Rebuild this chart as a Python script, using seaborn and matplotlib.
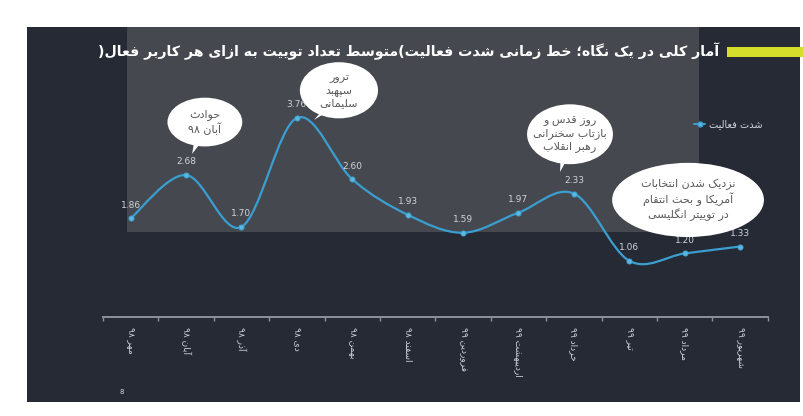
import re
import numpy as np
import pandas as pd
import matplotlib
matplotlib.use("Agg")
import matplotlib.pyplot as plt
import seaborn as sns
from matplotlib.patches import Rectangle, PathPatch, Ellipse, Polygon
from matplotlib.path import Path
from matplotlib.lines import Line2D

# --- data ---
months = ["مهر ۹۸", "آبان ۹۸", "آذر ۹۸", "دی ۹۸", "بهمن ۹۸", "اسفند ۹۸",
          "فروردین ۹۹", "اردیبهشت ۹۹", "خرداد ۹۹", "تیر ۹۹", "مرداد ۹۹", "شهریور ۹۹"]
activity = [1.86, 2.68, 1.70, 3.76, 2.60, 1.93, 1.59, 1.97, 2.33, 1.06, 1.20, 1.33]
series_name = "شدت فعالیت"
title = "آمار کلی در یک نگاه؛ خط زمانی شدت فعالیت(متوسط تعداد توییت به ازای هر کاربر فعال)"
callout_text = ["حوادث\nآبان ۹۸",
                "ترور\nسپهبد\nسلیمانی",
                "روز قدس و\nبازتاب سخنرانی\nرهبر انقلاب",
                "نزدیک شدن انتخابات\nآمریکا و بحث انتقام\nدر توییتر انگلیسی"]

# layout of the speech bubbles (centre, width, height, tail tip) in axis units
bubble_layout = [((1.34, 3.68), 1.35, 0.92, (1.11, 3.08)),
                 ((3.76, 4.28), 1.41, 1.06, (3.31, 3.72)),
                 ((7.93, 3.45), 1.55, 1.13, (7.75, 2.74)),
                 ((10.06, 2.21), 2.74, 1.40, (9.41, 1.58))]


# --- minimal persian shaping + right-to-left ordering (matplotlib has no bidi) ---
FORMS = {
    'ا': (0xFE8D, 0xFE8E), 'آ': (0xFE81, 0xFE82), 'د': (0xFEA9, 0xFEAA),
    'ذ': (0xFEAB, 0xFEAC), 'ر': (0xFEAD, 0xFEAE), 'ز': (0xFEAF, 0xFEB0),
    'ژ': (0xFB8A, 0xFB8B), 'و': (0xFEED, 0xFEEE),
    'ب': 0xFE8F, 'ت': 0xFE95, 'ث': 0xFE99, 'ج': 0xFE9D, 'ح': 0xFEA1, 'خ': 0xFEA5,
    'س': 0xFEB1, 'ش': 0xFEB5, 'ص': 0xFEB9, 'ض': 0xFEBD, 'ط': 0xFEC1, 'ظ': 0xFEC5,
    'ع': 0xFEC9, 'غ': 0xFECD, 'ف': 0xFED1, 'ق': 0xFED5, 'ل': 0xFEDD, 'م': 0xFEE1,
    'ن': 0xFEE5, 'ه': 0xFEE9, 'ی': 0xFBFC, 'پ': 0xFB56, 'چ': 0xFB7A, 'ک': 0xFB8E,
    'گ': 0xFB92, 'ئ': 0xFE89,
}


def joins_next(c):
    return c in FORMS and not isinstance(FORMS[c], tuple)


def shape(s):
    out = []
    i = 0
    while i < len(s):
        c = s[i]
        if c not in FORMS:
            out.append(c)
            i += 1
            continue
        after_link = i > 0 and joins_next(s[i - 1])
        if c == 'ل' and i + 1 < len(s) and s[i + 1] in 'اآ':
            base = 0xFEFB if s[i + 1] == 'ا' else 0xFEF5
            out.append(chr(base + (1 if after_link else 0)))
            i += 2
            continue
        before_link = joins_next(c) and i + 1 < len(s) and s[i + 1] in FORMS
        f = FORMS[c]
        if isinstance(f, tuple):
            out.append(chr(f[1] if after_link else f[0]))
        else:
            k = (3 if before_link else 1) if after_link else (2 if before_link else 0)
            out.append(chr(f + k))
        i += 1
    return ''.join(out)


def rtl(s):
    lines = []
    for line in s.split('\n'):
        parts = re.findall(r'[0-9۰-۹.]+|[^0-9۰-۹.]', shape(line))
        lines.append(''.join(reversed(parts)))
    return '\n'.join(lines)


# --- style ---
sns.set_theme(style="white")
plt.rcParams['font.family'] = ['DejaVu Sans']

bg = '#262a35'
line_c = '#3a9fd0'
txt_c = '#cfd3da'

df = pd.DataFrame({'month': np.arange(len(months)), 'value': activity})

fig = plt.figure(figsize=(8.04, 4.16), dpi=100, facecolor='white')
fig.patches.append(Rectangle((0.0336, 0.034), 0.962, 0.901, transform=fig.transFigure,
                             facecolor=bg, edgecolor='none', zorder=-3))
fig.patches.append(Rectangle((0.158, 0.442), 0.711, 0.493, transform=fig.transFigure,
                             facecolor='#46484f', edgecolor='none', zorder=-2))
fig.patches.append(Rectangle((0.904, 0.864), 0.096, 0.022, transform=fig.transFigure,
                             facecolor='#d6de2c', edgecolor='none', zorder=-1))
fig.text(0.895, 0.876, rtl(title), ha='right', va='center', color='white',
         fontsize=10.2, fontweight='bold')
fig.text(0.152, 0.058, "8", ha='center', va='center', color='#d8d8d8', fontsize=5)

ax = fig.add_axes([0.128, 0.238, 0.827, 0.573])
ax.set_facecolor('none')

# smoothed line (bezier through the points), markers via seaborn
pts = np.column_stack([df['month'], df['value']]).astype(float)
verts, codes = [pts[0]], [Path.MOVETO]
for i in range(len(pts) - 1):
    p0 = pts[i - 1] if i > 0 else pts[i]
    p3 = pts[i + 2] if i + 2 < len(pts) else pts[i + 1]
    verts += [pts[i] + (pts[i + 1] - p0) / 6, pts[i + 1] - (p3 - pts[i]) / 6, pts[i + 1]]
    codes += [Path.CURVE4] * 3
ax.add_patch(PathPatch(Path(verts, codes), facecolor='none', edgecolor=line_c, lw=1.6, zorder=2))
sns.scatterplot(data=df, x='month', y='value', ax=ax, color='#5ab8e0', s=14,
                edgecolor=line_c, linewidth=0.6, zorder=3, legend=False)

for x, v in zip(df['month'], df['value']):
    ax.annotate(f"{v:.2f}", (x, v), xytext=(0, 9.5), textcoords='offset points',
                ha='center', va='center', color=txt_c, fontsize=6.5)

# speech bubbles
for t, (c, w, h, tip) in zip(callout_text, bubble_layout):
    tail = [(c[0] - 0.16, c[1] - h * 0.2), (c[0] + 0.08, c[1] - h * 0.2), tip]
    ax.add_patch(Polygon(tail, closed=True, fc='white', ec='none', zorder=4, clip_on=False))
    ax.add_patch(Ellipse(c, w, h, fc='white', ec='none', zorder=4, clip_on=False))
    ax.text(c[0], c[1], rtl(t), ha='center', va='center', color='#5a5a5a',
            fontsize=8, linespacing=1.25, zorder=5)

ax.set_xlim(-0.5, len(months) - 0.5)
ax.set_ylim(0, 4.5)
ax.set_xticks(df['month'])
ax.set_xticklabels([rtl(m) for m in months], rotation=270, color=txt_c, fontsize=6.5)
ax.set_xticks(np.arange(-0.5, len(months)), minor=True)
ax.tick_params(axis='x', which='major', length=0, pad=7)
ax.tick_params(axis='x', which='minor', length=3, color='#8c929b', width=1, bottom=True)
ax.set_yticks([])
ax.set_xlabel('')
ax.set_ylabel('')
for s in ['left', 'right', 'top']:
    ax.spines[s].set_visible(False)
ax.spines['bottom'].set_color('#8c929b')
ax.spines['bottom'].set_linewidth(1.4)

handle = Line2D([], [], color=line_c, lw=1.4, marker='o', markersize=3.5,
                markerfacecolor='#5ab8e0')
fig.legend([handle], [rtl(series_name)], loc='upper left', bbox_to_anchor=(0.852, 0.735),
           frameon=False, labelcolor=txt_c, fontsize=7, handlelength=1.2, handletextpad=0.4)

fig.savefig("out.png", dpi=100, facecolor=fig.get_facecolor())
